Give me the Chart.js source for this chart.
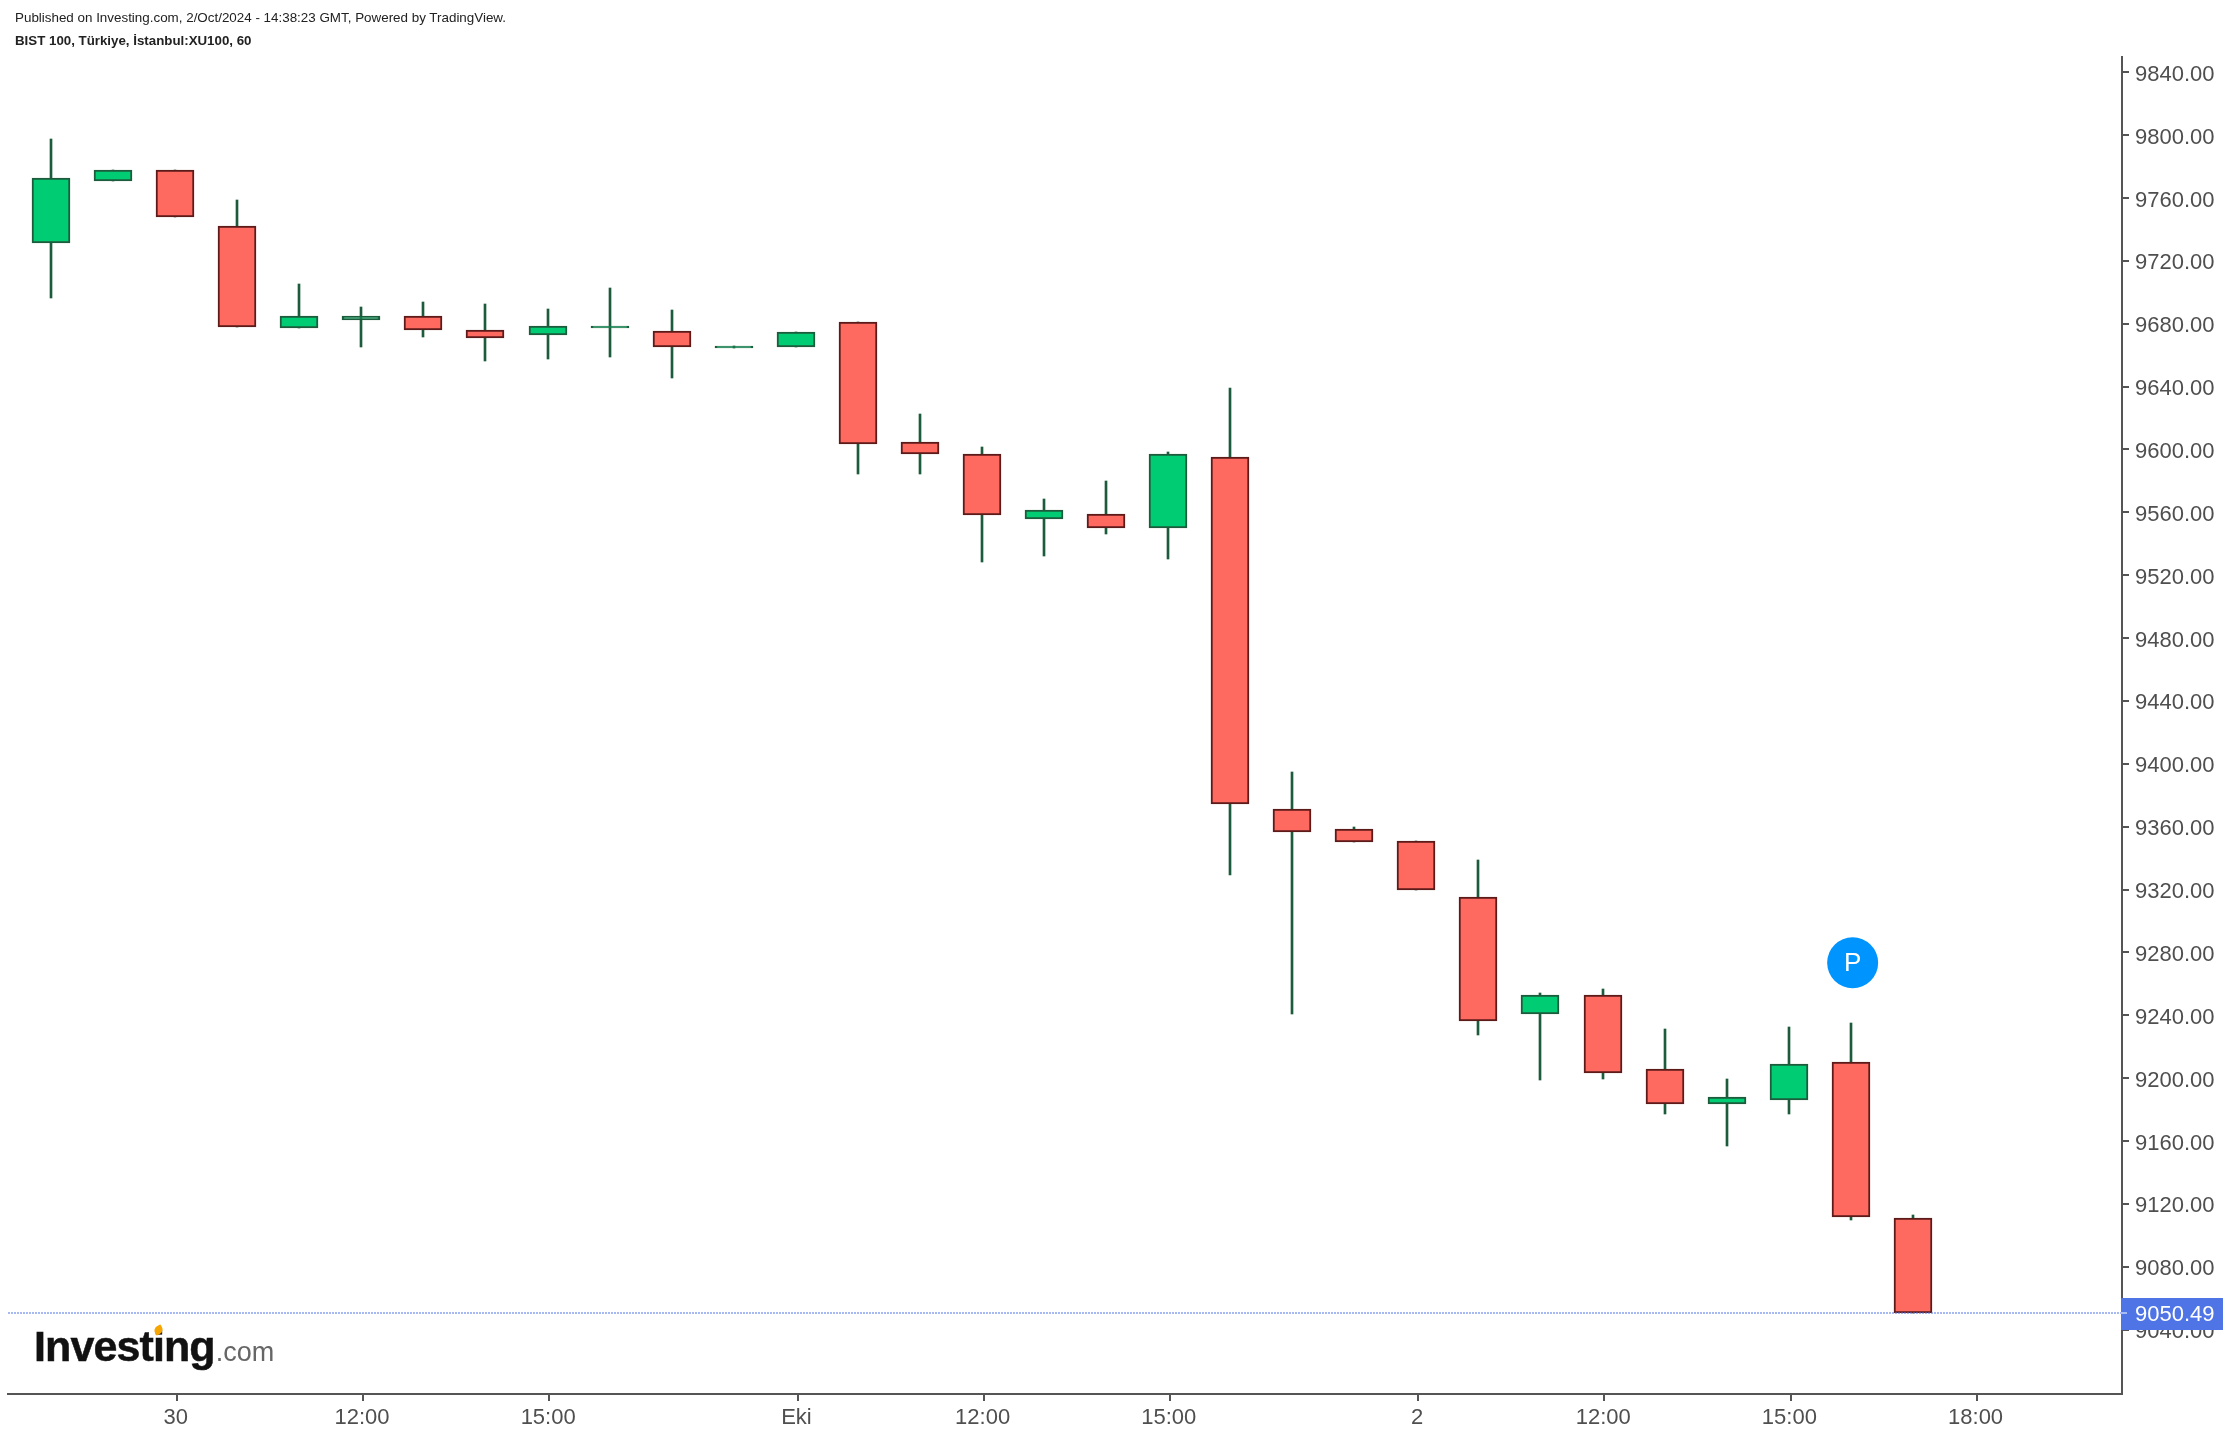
<!DOCTYPE html>
<html>
<head>
<meta charset="utf-8">
<style>
  html, body { margin: 0; padding: 0; background: #fff; }
  #wrap { position: relative; width: 2230px; height: 1436px; overflow: hidden; font-family: "Liberation Sans", Arial, sans-serif; }
  #chart { position: absolute; left: 0; top: 0; }
  .head { position: absolute; left: 15px; color: #222; font-size: 13.4px; white-space: nowrap; }
  .logo { position: absolute; left: 34px; top: 1320px; white-space: nowrap; color: #111; line-height: 52px; filter: blur(0.6px); }
  .logo b { font-size: 43px; letter-spacing: -0.9px; -webkit-text-stroke: 0.5px #111; }
  .logo span { font-size: 27px; color: #666; margin-left: 1px; }
  .dot { position: absolute; left: 154px; top: 1326px; width: 9px; height: 8px; background: #f7a600; border-radius: 5px 1px; transform: rotate(-30deg); }
</style>
<script src="https://cdn.jsdelivr.net/npm/chart.js@4"></script>
</head>
<body>
<div id="wrap">
  <canvas id="chart" width="2230" height="1436"></canvas>
  <div class="head" style="top:10px">Published on Investing.com, 2/Oct/2024 - 14:38:23 GMT, Powered by TradingView.</div>
  <div class="head" style="top:33px;font-weight:bold;font-size:13.3px">BIST 100, Türkiye, İstanbul:XU100, 60</div>
  <div class="logo"><b>Investing</b><span>.com</span></div>
  <div class="dot"></div>
</div>
<script>
/* DATA */
const opens  = [9731.2, 9770.5, 9778, 9742, 9677.5, 9682.4, 9684.9, 9676, 9673, 9677.5, 9675.6, 9664.8, 9665.2, 9681, 9605, 9597, 9555.5, 9559, 9550, 9595.5, 9371, 9358.6, 9351, 9315, 9241, 9253, 9205.5, 9183.5, 9186, 9210, 9111];
const closes = [9773, 9778, 9748, 9677.8, 9684.6, 9684.9, 9676, 9671, 9678.4, 9678.8, 9665.2, 9666, 9675, 9603.5, 9597, 9558.5, 9561.5, 9550, 9597, 9374.4, 9356.5, 9350, 9320, 9236.5, 9253, 9203.5, 9183.5, 9188, 9209, 9111.5, 9050.49];
const highs  = [9797.5, 9778, 9778, 9758.5, 9705, 9690.5, 9694, 9692.5, 9689.5, 9702.5, 9688.5, 9666, 9675, 9681, 9622.5, 9601.5, 9568.5, 9580, 9598.6, 9639, 9394.5, 9359.5, 9351, 9339, 9254.4, 9256.5, 9231.5, 9199.5, 9232.6, 9235, 9112.7];
const lows   = [9696.5, 9770.5, 9748, 9677.8, 9677.5, 9665, 9671.5, 9656, 9657.5, 9658.5, 9645.2, 9664.8, 9665.2, 9584.5, 9584.5, 9528.5, 9532.5, 9546.5, 9530, 9329.5, 9241, 9350, 9320, 9227.5, 9198.5, 9199.5, 9177, 9156.5, 9177.3, 9109.5, 9050.49];

const yTicks = [9040, 9080, 9120, 9160, 9200, 9240, 9280, 9320, 9360, 9400, 9440, 9480, 9520, 9560, 9600, 9640, 9680, 9720, 9760, 9800, 9840];
const xTickPos = [2.03, 5.03, 8.03, 12.03, 15.03, 18.03, 22.03, 25.03, 28.03, 31.03];
const xTickLabels = ["30", "12:00", "15:00", "Eki", "12:00", "15:00", "2", "12:00", "15:00", "18:00"];

const lastPrice = 9050.49;
const markerPoint = { x: 29.03, y: 9273.4, label: "P" };

const xMin = -0.693;
const xMax = 33.37;
const yMin = 8999;
const yMax = 9849.7;

const isUp = i => closes[i] >= opens[i];

/* keep candle edges on whole pixels */
const snapBars = {
  id: "snapBars",
  beforeDatasetsDraw(chart) {
    chart.data.datasets.forEach((ds, i) => {
      if (ds.type) return;
      chart.getDatasetMeta(i).data.forEach(el => {
        el.x = Math.round(el.x);
        el.y = Math.round(el.y);
        el.base = Math.round(el.base);
      });
    });
  }
};

/* labels drawn on top of the marks */
const overlay = {
  id: "overlay",
  afterDraw(chart) {
    const { ctx, scales } = chart;
    const py = scales.y.getPixelForValue(lastPrice);
    ctx.save();
    ctx.fillStyle = "#4f74e6";
    ctx.fillRect(2121, Math.round(py) - 15, 102, 32);
    ctx.fillStyle = "#a9bbf3";
    ctx.fillRect(2121, Math.round(py) - 1, 6, 2);
    ctx.fillStyle = "#fff";
    ctx.font = "22px 'Liberation Sans'";
    ctx.textBaseline = "middle";
    ctx.textAlign = "left";
    ctx.fillText(lastPrice.toFixed(2), 2135, py + 2);
    ctx.textAlign = "center";
    ctx.font = "26px 'Liberation Sans'";
    ctx.fillText(markerPoint.label, scales.x.getPixelForValue(markerPoint.x), scales.y.getPixelForValue(markerPoint.y) + 1);
    ctx.restore();
  }
};

new Chart(document.getElementById("chart"), {
  type: "bar",
  data: {
    datasets: [
      {
        label: "Wick",
        data: lows.map((l, i) => ({ x: i, y: [l, highs[i]] })),
        backgroundColor: "#1c5c3c",
        borderWidth: 0,
        barThickness: 2,
        grouped: false,
        order: 3
      },
      {
        label: "Body",
        data: opens.map((o, i) => ({ x: i, y: [o, closes[i]] })),
        backgroundColor: c => isUp(c.dataIndex) ? "#00cc73" : "#ff6a60",
        borderColor: c => isUp(c.dataIndex) ? "#1c5c3c" : "#5c1a18",
        borderWidth: 2,
        borderSkipped: false,
        barThickness: 38,
        grouped: false,
        order: 2
      },
      {
        type: "line",
        label: "Last",
        data: [{ x: xMin, y: lastPrice }, { x: xMax, y: lastPrice }],
        borderColor: "rgba(79,116,230,0.5)",
        borderWidth: 2,
        borderDash: [2, 1],
        pointRadius: 0,
        order: 1
      },
      {
        type: "scatter",
        label: "Marker",
        data: [markerPoint],
        backgroundColor: "#0094ff",
        borderWidth: 0,
        pointRadius: 25.5,
        order: 0
      }
    ]
  },
  options: {
    responsive: false,
    animation: false,
    layout: { autoPadding: false, padding: { left: 8, top: 57, right: 0, bottom: 0 } },
    plugins: { legend: { display: false }, tooltip: { enabled: false } },
    scales: {
      x: {
        type: "linear",
        offset: false,
        min: xMin,
        max: xMax,
        afterFit: s => { s.height = 42; s.paddingLeft = 0; s.paddingRight = 0; },
        afterBuildTicks: s => { s.ticks = xTickPos.map(value => ({ value })); },
        afterTickToLabelConversion: s => { s.ticks.forEach((t, i) => { t.label = xTickLabels[i]; }); },
        border: { color: "#555", width: 2 },
        grid: { offset: false, drawOnChartArea: false, color: "#555", lineWidth: 2, tickLength: 7 },
        ticks: { color: "#4f4f4f", font: { family: "Liberation Sans", size: 22 }, padding: 4, labelOffset: -1.2, maxRotation: 0, autoSkip: false }
      },
      y: {
        position: "right",
        min: yMin,
        max: yMax,
        afterFit: s => { s.width = 108; s.paddingTop = 0; s.paddingBottom = 0; },
        afterBuildTicks: s => { s.ticks = yTicks.map(value => ({ value })); },
        border: { color: "#555", width: 2 },
        grid: { drawOnChartArea: false, color: "#555", lineWidth: 2, tickLength: 7 },
        ticks: { color: "#4f4f4f", font: { family: "Liberation Sans", size: 22 }, padding: 6, labelOffset: 2.5, autoSkip: false, callback: v => v.toFixed(2) }
      }
    }
  },
  plugins: [snapBars, overlay]
});
</script>
</body>
</html>
